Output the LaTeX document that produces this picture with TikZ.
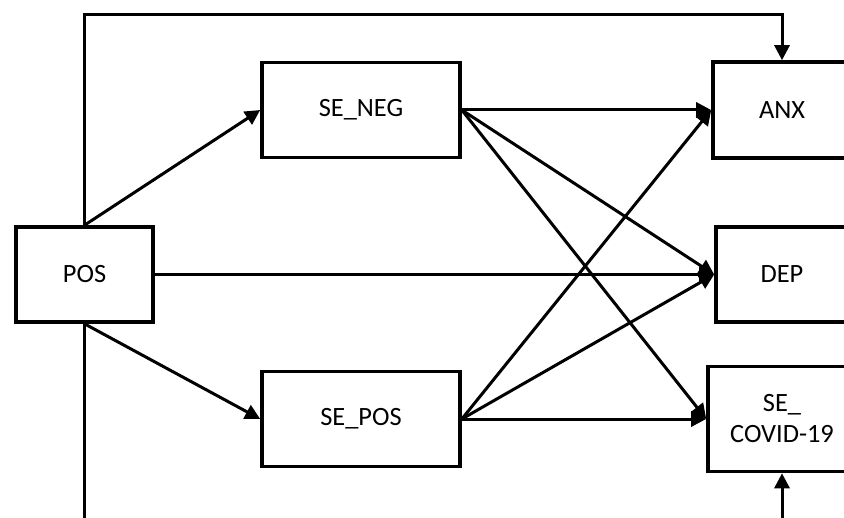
\documentclass[tikz,border=0pt]{standalone}
\usepackage{fontspec}
\setmainfont{Carlito}
\usetikzlibrary{arrows.meta,positioning}

\tikzset{box/.style={draw, line width=1.8pt, align=center, inner sep=0pt, fill=white,
  font=\fontsize{13.2}{15.5}\selectfont}}

\begin{document}
\begin{tikzpicture}[x=0.5pt, y=-0.5pt, >={Triangle[length=7.5pt,width=7.5pt]}, node distance=2cm, on grid, line width=1.5pt]
	\clip (0,0) rectangle (844,518);
	\node[box, minimum width=68.5pt, minimum height=47.5pt] (pos) at (84.5,274.5) {POS};
	\node[box, minimum width=99pt, minimum height=47.5pt] (seneg) [above right=82.25pt and 138.25pt of pos] {SE\_NEG};
	\node[box, minimum width=99pt, minimum height=47.5pt] (sepos) [below right=72.25pt and 138.25pt of pos] {SE\_POS};
	\node[box, minimum width=69pt, minimum height=48pt] (anx) [right=210.5pt of seneg] {ANX};
	\node[box, minimum width=66pt, minimum height=47.5pt] (dep) [right=348.75pt of pos] {DEP};
	\node[box, minimum width=74pt, minimum height=52.5pt] (secovid) [right=210.5pt of sepos] {SE\_\\COVID-19};
	
	\coordinate (top) at (430,15);
	\coordinate (bot) at (430,519.5);
	
	\path[->]	(pos.north) edge (seneg.west)
				(pos.south) edge (sepos.west)
				(pos.east) edge (dep.west)
				
				(seneg.east) edge (anx.west)
				(seneg.east) edge (dep.west)
				(seneg.east) edge (secovid.west)
				
				(sepos.east) edge (anx.west)
				(sepos.east) edge (dep.west)
				(sepos.east) edge (secovid.west);
	
	\draw[->] (pos.north) |- (top) -| (anx.north);
	\draw[->] (pos.south) |- (bot) -| (secovid.south);
\end{tikzpicture}
\end{document}
